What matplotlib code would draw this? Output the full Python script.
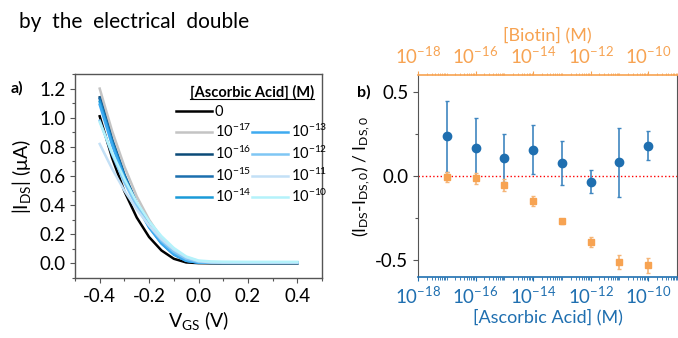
import numpy as np
import matplotlib
matplotlib.use('Agg')
import matplotlib.pyplot as plt
from matplotlib.lines import Line2D
from matplotlib.ticker import FixedLocator, LogLocator, MultipleLocator, NullFormatter

plt.rcParams['font.family'] = ['Lato', 'DejaVu Sans']
plt.rcParams['mathtext.fontset'] = 'custom'
plt.rcParams['mathtext.rm'] = 'Lato'
plt.rcParams['mathtext.it'] = 'Lato:italic'
plt.rcParams['mathtext.bf'] = 'Lato:bold'

# panel a: transfer curves
vgs = [-0.4, -0.35, -0.3, -0.25, -0.2, -0.15, -0.1, -0.05, 0.0, 0.05, 0.1, 0.2, 0.3, 0.4]
i_0 = [1.01, 0.725, 0.495, 0.315, 0.181, 0.089, 0.032, 0.007, 0.002, 0.001, 0.001, 0.001, 0.001, 0.001]
i_17 = [1.20, 0.91, 0.665, 0.46, 0.30, 0.172, 0.083, 0.029, 0.010, 0.006, 0.004, 0.003, 0.003, 0.003]
i_16 = [1.14, 0.852, 0.610, 0.413, 0.258, 0.143, 0.064, 0.019, 0.006, 0.004, 0.003, 0.003, 0.003, 0.003]
i_15 = [1.13, 0.844, 0.605, 0.409, 0.255, 0.141, 0.063, 0.019, 0.006, 0.004, 0.003, 0.003, 0.003, 0.003]
i_14 = [1.11, 0.830, 0.594, 0.402, 0.251, 0.139, 0.062, 0.019, 0.006, 0.004, 0.004, 0.004, 0.004, 0.004]
i_13 = [1.09, 0.814, 0.583, 0.395, 0.246, 0.136, 0.061, 0.018, 0.006, 0.005, 0.005, 0.005, 0.005, 0.005]
i_12 = [0.98, 0.75, 0.556, 0.39, 0.26, 0.155, 0.079, 0.031, 0.010, 0.006, 0.005, 0.005, 0.005, 0.005]
i_11 = [0.82, 0.65, 0.50, 0.37, 0.26, 0.167, 0.095, 0.043, 0.016, 0.008, 0.006, 0.006, 0.006, 0.006]
i_10 = [0.97, 0.76, 0.58, 0.42, 0.29, 0.187, 0.106, 0.048, 0.020, 0.014, 0.012, 0.011, 0.011, 0.011]

curves = [i_0, i_17, i_16, i_15, i_14, i_13, i_12, i_11, i_10]
curve_labels = ['0', '$10^{-17}$', '$10^{-16}$', '$10^{-15}$', '$10^{-14}$',
                '$10^{-13}$', '$10^{-12}$', '$10^{-11}$', '$10^{-10}$']
curve_colors = ['#000000', '#c4c4c4', '#0b4a78', '#1b6fae', '#1a9ad8',
                '#3eaaf0', '#7fc6f4', '#c3e0f6', '#b4f2fb']

# panel b: response vs concentration
conc = [1e-17, 1e-16, 1e-15, 1e-14, 1e-13, 1e-12, 1e-11, 1e-10]
aa_resp = [0.235, 0.165, 0.105, 0.157, 0.076, -0.033, 0.082, 0.181]
aa_err = [0.21, 0.18, 0.142, 0.145, 0.13, 0.067, 0.205, 0.088]
bio_resp = [-0.008, -0.014, -0.053, -0.146, -0.269, -0.393, -0.512, -0.53]
bio_err = [0.03, 0.032, 0.035, 0.03, 0.015, 0.03, 0.04, 0.045]

blue = '#1f6fb0'
orange = '#f7a352'
spine_c = '#555555'

fig = plt.figure(figsize=(6.78, 3.38), dpi=100)
fig.text(0.028, 0.935, 'by  the  electrical  double', fontsize=15, va='center', ha='left')

# ---- panel a
ax1 = fig.add_axes([0.1106, 0.1775, 0.3644, 0.6035])
for y, lab, c in zip(curves, curve_labels, curve_colors):
    ax1.plot(vgs, y, color=c, lw=1.8, label=lab)
ax1.set_xlim(-0.5, 0.5)
ax1.set_ylim(-0.1, 1.3)
ax1.xaxis.set_major_locator(FixedLocator([-0.4, -0.2, 0.0, 0.2, 0.4]))
ax1.xaxis.set_minor_locator(MultipleLocator(0.1))
ax1.yaxis.set_major_locator(MultipleLocator(0.2))
ax1.yaxis.set_minor_locator(MultipleLocator(0.1))
ax1.set_xticklabels(['-0.4', '-0.2', '0.0', '0.2', '0.4'])
ax1.set_yticklabels(['%.1f' % v for v in ax1.get_yticks()])
ax1.tick_params(labelsize=13.5, length=3.5, width=0.8, color=spine_c, direction='out')
ax1.tick_params(which='minor', length=2, width=0.8, color=spine_c)
for s in ax1.spines.values():
    s.set_color(spine_c)
    s.set_linewidth(1.0)
ax1.set_xlabel('V$_\\mathregular{GS}$ (V)', fontsize=14, labelpad=3)
ax1.set_ylabel('|I$_\\mathregular{DS}$| (\u03bcA)', fontsize=14, labelpad=4)

h, l = ax1.get_legend_handles_labels()
blank = Line2D([], [], color='none')
h = h[:5] + [blank] + h[5:]
l = l[:5] + [''] + l[5:]
leg = ax1.legend(h, l, ncol=2, loc='upper left', bbox_to_anchor=(0.41, 0.945),
                 frameon=False, fontsize=10.5, handlelength=2.45, handletextpad=0.2,
                 columnspacing=0.05, labelspacing=0.3, borderpad=0, borderaxespad=0,
                 title='[Ascorbic Acid] (M)',
                 title_fontproperties={'weight': 'bold', 'size': 10.5})
fig.text(0.015, 0.74, 'a)', fontsize=11.5, weight='bold', va='center')

# ---- panel b
ax2 = fig.add_axes([0.6165, 0.1805, 0.382, 0.5975])
ax2.axhline(0, color='red', ls=':', lw=1.0, zorder=1)
ax2.errorbar(conc, aa_resp, yerr=aa_err, fmt='o', color=blue, ms=6,
             ecolor='#3f86c0', elinewidth=1.2, capsize=1.5, capthick=1.0, zorder=3)
ax2.set_xscale('log')
ax2.set_xlim(1e-18, 1e-9)
ax2.set_ylim(-0.6, 0.6)
ax2.xaxis.set_major_locator(FixedLocator([1e-18, 1e-16, 1e-14, 1e-12, 1e-10]))
ax2.xaxis.set_minor_locator(LogLocator(base=10, subs=np.arange(1, 10), numticks=40))
ax2.xaxis.set_minor_formatter(NullFormatter())
ax2.yaxis.set_major_locator(FixedLocator([-0.5, 0.0, 0.5]))
ax2.yaxis.set_minor_locator(FixedLocator([-0.25, 0.25]))
ax2.set_yticklabels(['-0.5', '0.0', '0.5'])
ax2.tick_params(axis='y', labelsize=13.5, length=3.5, width=0.8, color=spine_c)
ax2.tick_params(axis='y', which='minor', length=2, width=0.8, color=spine_c)
ax2.tick_params(axis='x', labelsize=13.5, length=3, width=0.8, color=blue, labelcolor=blue, pad=3)
ax2.tick_params(axis='x', which='minor', length=1.8, width=0.6, color=blue)
ax2.spines['bottom'].set_color(blue)
ax2.spines['bottom'].set_linewidth(1.2)
ax2.spines['left'].set_color(spine_c)
ax2.spines['right'].set_color(spine_c)
ax2.spines['top'].set_visible(False)
ax2.set_xlabel('[Ascorbic Acid] (M)', fontsize=13, color=blue, labelpad=2)
ax2.set_ylabel('(I$_\\mathregular{DS}$-I$_\\mathregular{DS,0}$) / I$_\\mathregular{DS,0}$',
               fontsize=12.5, labelpad=2)

ax3 = ax2.twiny()
ax3.errorbar(conc, bio_resp, yerr=bio_err, fmt='s', color=orange, ms=4,
             ecolor='#f5b577', elinewidth=1.2, capsize=1.5, capthick=1.0, zorder=2)
ax3.set_xscale('log')
ax3.set_xlim(1e-18, 1e-9)
ax3.xaxis.set_major_locator(FixedLocator([1e-18, 1e-16, 1e-14, 1e-12, 1e-10]))
ax3.xaxis.set_minor_locator(LogLocator(base=10, subs=np.arange(1, 10), numticks=40))
ax3.xaxis.set_minor_formatter(NullFormatter())
ax3.tick_params(axis='x', labelsize=13.5, length=3, width=0.8, color=orange, labelcolor=orange, pad=3)
ax3.tick_params(axis='x', which='minor', length=1.8, width=0.6, color=orange)
ax3.spines['top'].set_color(orange)
ax3.spines['top'].set_linewidth(1.2)
ax3.spines['bottom'].set_visible(False)
ax3.spines['left'].set_visible(False)
ax3.spines['right'].set_visible(False)
ax3.set_xlabel('[Biotin] (M)', fontsize=13, color=orange, labelpad=4)
fig.text(0.527, 0.728, 'b)', fontsize=11.5, weight='bold', va='center')

# underline the legend title
fig.canvas.draw()
bb = leg.get_title().get_window_extent().transformed(fig.transFigure.inverted())
fig.add_artist(Line2D([bb.x0, bb.x1], [bb.y0 + 0.004, bb.y0 + 0.004],
                      transform=fig.transFigure, color='black', lw=0.8))

fig.savefig('out.png', dpi=100)
